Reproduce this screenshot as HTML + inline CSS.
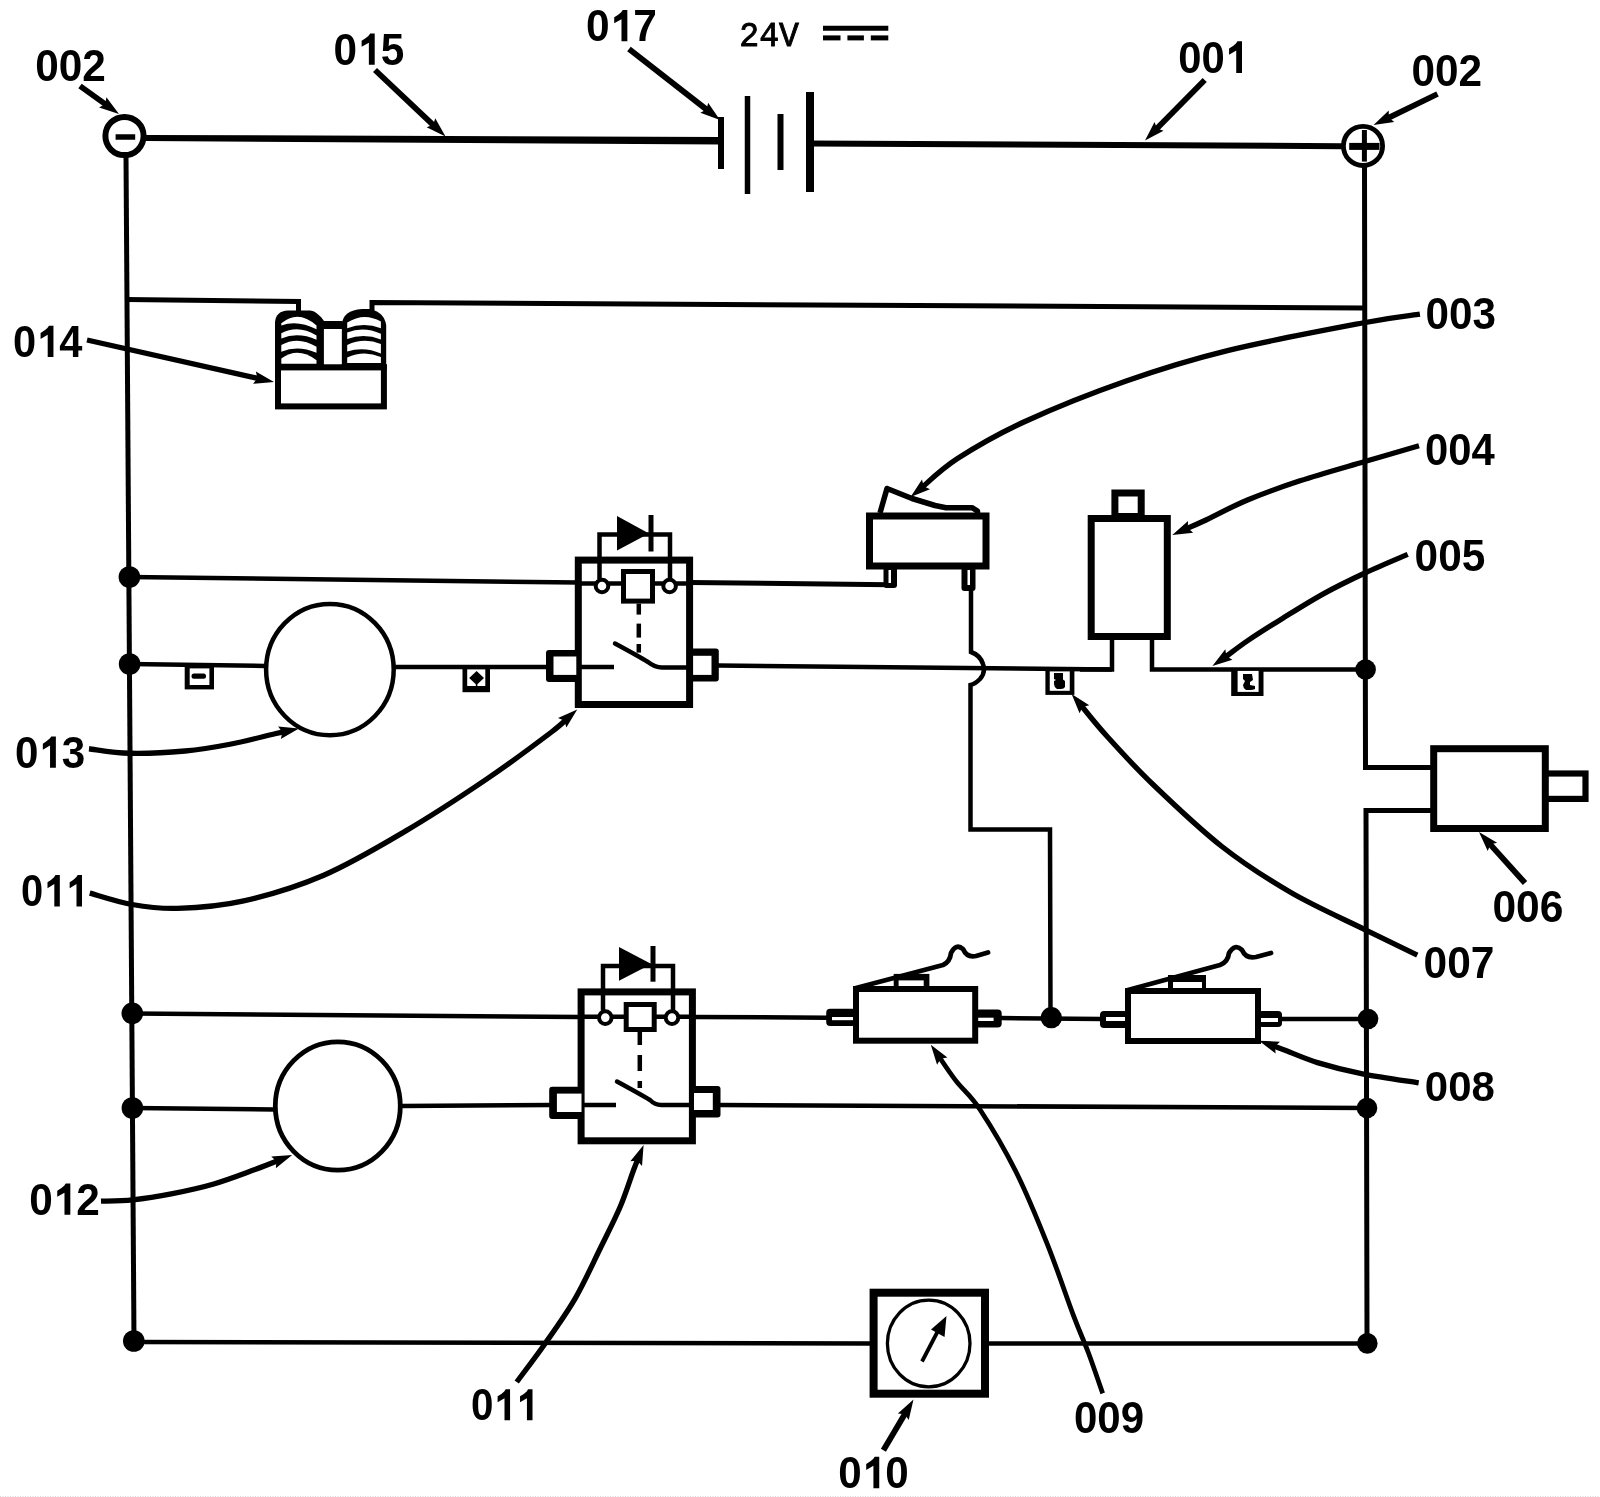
<!DOCTYPE html>
<html><head><meta charset="utf-8"><style>
html,body{margin:0;padding:0;background:#fff;}
svg{display:block;will-change:transform;}
.lb{font-family:"Liberation Sans",sans-serif;font-weight:bold;fill:#000;}
.mono{font-family:"Liberation Mono",monospace;fill:#000;}
</style></head><body>
<svg width="1600" height="1497" viewBox="0 0 1600 1497" stroke="#000" fill="none">
<rect x="0" y="0" width="1600" height="1497" fill="#fff" stroke="none"/>
<polygon points="146,134.9 722,136.9 722,144.4 146,141.1" fill="#000" stroke="none"/>
<circle cx="124.5" cy="136" r="19.1" fill="none" stroke-width="6"/>
<line x1="115.6" y1="137" x2="135.2" y2="137" stroke-width="5.5" stroke-linecap="butt"/>
<line x1="721" y1="117" x2="721" y2="169" stroke-width="6" stroke-linecap="butt"/>
<line x1="747.5" y1="96" x2="747.5" y2="194" stroke-width="5.5" stroke-linecap="butt"/>
<line x1="780.5" y1="114" x2="780.5" y2="170" stroke-width="6" stroke-linecap="butt"/>
<line x1="810" y1="92" x2="810" y2="192" stroke-width="8" stroke-linecap="butt"/>
<line x1="810" y1="143.5" x2="1342" y2="146.2" stroke-width="6" stroke-linecap="butt"/>
<circle cx="1363" cy="145.9" r="19.6" fill="none" stroke-width="4.8"/>
<line x1="1349.2" y1="146.4" x2="1379.5" y2="146.4" stroke-width="7" stroke-linecap="butt"/>
<line x1="1364.4" y1="130" x2="1364.4" y2="161.6" stroke-width="5" stroke-linecap="butt"/>
<line x1="126" y1="156" x2="134" y2="1341" stroke-width="5" stroke-linecap="butt"/>
<polyline points="1364.5,166 1365.5,767.5 1432,767.5" fill="none" stroke-width="5" stroke-linecap="butt" stroke-linejoin="miter"/>
<polyline points="1432,810.5 1366,810.5 1367,1343" fill="none" stroke-width="5" stroke-linecap="butt" stroke-linejoin="miter"/>
<polyline points="126,299.5 298.5,301.5 298.5,312" fill="none" stroke-width="5" stroke-linecap="butt" stroke-linejoin="miter"/>
<polyline points="372,311 372,302.5 1364,308" fill="none" stroke-width="5" stroke-linecap="butt" stroke-linejoin="miter"/>
<rect x="278" y="367.4" width="105.9" height="39" rx="0" fill="#fff" stroke-width="6"/>
<path d="M275,368 L275,322 Q276,311 288,310.5 L310,310.5 Q317,311 324,321 L324,368 Z" fill="#000" stroke-width="0" stroke-linecap="butt" stroke-linejoin="round"/>
<path d="M341.6,368 L341.6,325 Q343,310 362,309 L370,309 Q384,312 386.2,325 L386.2,368 Z" fill="#000" stroke-width="0" stroke-linecap="butt" stroke-linejoin="round"/>
<rect x="323" y="321" width="19.5" height="8" fill="#000" stroke="none"/>
<path d="M281.3,323.3 Q298,309.05 316.5,325.4 L316.5,329.3 Q298,319.65 281.3,325.4 Z" fill="#fff" stroke="none"/>
<path d="M281.3,333.3 Q298,324.25 316.5,335.4 L316.5,339.8 Q298,331.65 281.3,338.5 Z" fill="#fff" stroke="none"/>
<path d="M281.3,345 Q298,335.55 316.5,346.7 L316.5,352.8 Q298,344.75 281.3,351.7 Z" fill="#fff" stroke="none"/>
<path d="M281.3,358.5 Q298,346.25 316.5,360.2 L316.5,363.8 L281.3,363.8 Z" fill="#fff" stroke="none"/>
<path d="M347.2,322.6 Q364,311.9 380.9,321.6 L380.9,328.2 Q364,321.6 347.2,328.2 Z" fill="#fff" stroke="none"/>
<path d="M347.2,332.4 Q364,326.1 380.9,333.8 L380.9,339.4 Q364,333.05 347.2,338.9 Z" fill="#fff" stroke="none"/>
<path d="M347.2,345 Q364,337.1 380.9,344 L380.9,353.4 Q364,345.95 347.2,351.5 Z" fill="#fff" stroke="none"/>
<path d="M347.2,357.6 Q364,349.45 380.9,357.1 L380.9,362.9 L347.2,362.9 Z" fill="#fff" stroke="none"/>
<rect x="323.9" y="329" width="17.7" height="35.5" fill="#fff" stroke="none"/>
<rect x="275" y="364.4" width="111.9" height="5.5" fill="#000" stroke="none"/>
<circle cx="129.4" cy="577" r="10.8" fill="#000" stroke="none"/>
<circle cx="129.6" cy="664" r="10.8" fill="#000" stroke="none"/>
<circle cx="132.3" cy="1013.3" r="10.8" fill="#000" stroke="none"/>
<circle cx="132.4" cy="1108" r="10.8" fill="#000" stroke="none"/>
<circle cx="133.8" cy="1341" r="10.8" fill="#000" stroke="none"/>
<circle cx="1365.6" cy="669.5" r="10.3" fill="#000" stroke="none"/>
<circle cx="1368" cy="1019" r="10.3" fill="#000" stroke="none"/>
<circle cx="1367" cy="1108" r="10.3" fill="#000" stroke="none"/>
<circle cx="1367.3" cy="1343.4" r="10.3" fill="#000" stroke="none"/>
<line x1="129" y1="577" x2="578" y2="582.5" stroke-width="4.5" stroke-linecap="butt"/>
<line x1="690" y1="582.5" x2="890" y2="584.75" stroke-width="5" stroke-linecap="butt"/>
<line x1="129" y1="664" x2="265" y2="666" stroke-width="4.5" stroke-linecap="butt"/>
<line x1="393" y1="667" x2="548" y2="667" stroke-width="4.5" stroke-linecap="butt"/>
<line x1="718" y1="665.5" x2="1112" y2="669.5" stroke-width="4.5" stroke-linecap="butt"/>
<polyline points="1112,639 1112,669.5 1080,669.5" fill="none" stroke-width="4.5" stroke-linecap="butt" stroke-linejoin="miter"/>
<polyline points="1152,639 1152,669.5 1365,669.5" fill="none" stroke-width="4.5" stroke-linecap="butt" stroke-linejoin="miter"/>
<path d="M971,588 L971,652 Q980,655 983,664 Q986,672 980,679 Q975,684 970.5,685 L970.5,829.5 L1050,829.5 L1050.5,1017" fill="none" stroke-width="4.5" stroke-linecap="butt" stroke-linejoin="miter"/>
<line x1="132" y1="1013.5" x2="580" y2="1017" stroke-width="4.5" stroke-linecap="butt"/>
<line x1="694" y1="1017" x2="828" y2="1017.7" stroke-width="4.5" stroke-linecap="butt"/>
<line x1="1000" y1="1018" x2="1102" y2="1019" stroke-width="4.5" stroke-linecap="butt"/>
<line x1="1280" y1="1019" x2="1368" y2="1019" stroke-width="4.5" stroke-linecap="butt"/>
<line x1="132" y1="1108" x2="274" y2="1109.5" stroke-width="4.5" stroke-linecap="butt"/>
<line x1="401" y1="1106" x2="551" y2="1105" stroke-width="4.5" stroke-linecap="butt"/>
<line x1="719" y1="1105" x2="1367" y2="1108" stroke-width="4.5" stroke-linecap="butt"/>
<line x1="134" y1="1342" x2="872" y2="1343.4" stroke-width="4.5" stroke-linecap="butt"/>
<line x1="987" y1="1343.4" x2="1367" y2="1343.4" stroke-width="4.5" stroke-linecap="butt"/>
<ellipse cx="329.9" cy="669.6" rx="63.8" ry="65.7" fill="#fff" stroke-width="4.5"/>
<ellipse cx="337.8" cy="1106" rx="62.5" ry="64.2" fill="#fff" stroke-width="4.8"/>
<rect x="184.7" y="666" width="29.3" height="23.4" rx="0" fill="#000" stroke="none"/>
<rect x="189.7" y="668.4" width="19.7" height="16.6" rx="0" fill="#fff" stroke="none"/>
<rect x="191.5" y="673.5" width="14.5" height="5.2" rx="2.5" fill="#000" stroke="none"/>
<rect x="462.5" y="667" width="27.5" height="25.2" rx="0" fill="#000" stroke="none"/>
<rect x="467.2" y="669.4" width="18.1" height="16.6" rx="0" fill="#fff" stroke="none"/>
<polygon points="476.6,671 484,678.1 476.6,685 469.2,678.1" fill="#000" stroke="none"/>
<line x1="476.6" y1="684" x2="476.6" y2="687" stroke-width="1.5" stroke-linecap="butt"/>
<rect x="1045.4" y="669" width="29" height="25.9" rx="0" fill="#000" stroke="none"/>
<rect x="1049.75" y="671.4" width="20" height="19.4" rx="0" fill="#fff" stroke="none"/>
<path d="M1054,673 L1063,673 L1063,679.5 L1065,681 L1065,687 Q1064,689 1061,689 L1057,689 Q1054,687 1054,684 L1054,681 L1056,680 L1054,679 Z" fill="#000" stroke-width="0" stroke-linecap="butt" stroke-linejoin="round"/>
<rect x="1231.2" y="669" width="32.3" height="27" rx="0" fill="#000" stroke="none"/>
<rect x="1237.6" y="670.9" width="21" height="21" rx="0" fill="#fff" stroke="none"/>
<path d="M1243,674 L1252,674 L1253,680 L1250,682 L1250,685 L1255,686 L1255,689 Q1253,690 1250,690 L1246,690 Q1243,688 1243,685 L1245,681 L1243,679 Z" fill="#000" stroke-width="0" stroke-linecap="butt" stroke-linejoin="round"/>
<polyline points="599.5,579 599.5,534.5 670,534.5 670,579" fill="none" stroke-width="4.5" stroke-linecap="butt" stroke-linejoin="miter"/>
<rect x="578.3" y="560.1" width="111.3" height="144.4" rx="0" fill="none" stroke-width="7"/>
<rect x="546" y="650" width="32" height="32" rx="3" fill="#000" stroke="none"/>
<rect x="553.5" y="656.5" width="22.8" height="18.4" rx="0" fill="#fff" stroke="none"/>
<rect x="688" y="648.5" width="30.8" height="33" rx="3" fill="#000" stroke="none"/>
<rect x="693.1" y="655.8" width="18.4" height="19.1" rx="0" fill="#fff" stroke="none"/>
<polygon points="617,516 617,550.5 649,533.5" fill="#000" stroke="none"/>
<line x1="651" y1="515" x2="651" y2="551.5" stroke-width="5" stroke-linecap="butt"/>
<line x1="577.8" y1="583.5" x2="690.1" y2="583.5" stroke-width="4.5" stroke-linecap="butt"/>
<rect x="623.5" y="571.5" width="29" height="29.6" rx="0" fill="#fff" stroke-width="5"/>
<circle cx="602" cy="586" r="6.3" fill="#fff" stroke-width="4"/>
<circle cx="669.6" cy="586" r="6.3" fill="#fff" stroke-width="4"/>
<line x1="638.8" y1="603.6" x2="638.8" y2="614.6" stroke-width="4.5" stroke-linecap="butt"/>
<line x1="638.8" y1="623.6" x2="638.8" y2="637.6" stroke-width="4.5" stroke-linecap="butt"/>
<line x1="638.8" y1="644" x2="638.8" y2="652.6" stroke-width="4.5" stroke-linecap="butt"/>
<path d="M615,643.5 Q640,657 648,662 Q655,667.5 662,667.5 L688,667.5" fill="none" stroke-width="4.5" stroke-linecap="round" stroke-linejoin="round"/>
<line x1="579.8" y1="667" x2="614" y2="667" stroke-width="4.5" stroke-linecap="butt"/>
<polyline points="603,1010.6 603,966 673,966 673,1010.6" fill="none" stroke-width="4.5" stroke-linecap="butt" stroke-linejoin="miter"/>
<rect x="581.1" y="991.9" width="111.3" height="148.9" rx="0" fill="none" stroke-width="7"/>
<rect x="549.2" y="1086.7" width="31.8" height="32.3" rx="3" fill="#000" stroke="none"/>
<rect x="556.9" y="1093.6" width="24.6" height="18.4" rx="0" fill="#fff" stroke="none"/>
<rect x="690" y="1086" width="30.5" height="31.4" rx="3" fill="#000" stroke="none"/>
<rect x="694" y="1093" width="18.8" height="17" rx="0" fill="#fff" stroke="none"/>
<polygon points="619,947 619,980.7 651.4,964" fill="#000" stroke="none"/>
<line x1="653" y1="946" x2="653" y2="981.7" stroke-width="5" stroke-linecap="butt"/>
<line x1="580.6" y1="1016.8" x2="692.9" y2="1016.8" stroke-width="4.5" stroke-linecap="butt"/>
<rect x="626.2" y="1004.5" width="28" height="25" rx="0" fill="#fff" stroke-width="5"/>
<circle cx="605.3" cy="1017.6" r="6.3" fill="#fff" stroke-width="4"/>
<circle cx="672" cy="1017.6" r="6.3" fill="#fff" stroke-width="4"/>
<line x1="639.8" y1="1032" x2="639.8" y2="1045" stroke-width="4.5" stroke-linecap="butt"/>
<line x1="639.8" y1="1055" x2="639.8" y2="1071" stroke-width="4.5" stroke-linecap="butt"/>
<line x1="639.8" y1="1081" x2="639.8" y2="1088" stroke-width="4.5" stroke-linecap="butt"/>
<path d="M617,1081.5 Q640,1094 650,1100 Q655,1105 661,1105 L690,1105" fill="none" stroke-width="4.5" stroke-linecap="round" stroke-linejoin="round"/>
<line x1="582.6" y1="1105" x2="616" y2="1105" stroke-width="4.5" stroke-linecap="butt"/>
<rect x="869.5" y="516" width="116.5" height="50" rx="0" fill="#fff" stroke-width="7"/>
<polyline points="880,513 887,488.5 912,498.5 935,505.5 946,507.7 972,507.7 977.5,511 977.5,513" fill="none" stroke-width="5.5" stroke-linecap="butt" stroke-linejoin="round"/>
<rect x="883.5" y="567" width="13.5" height="21" rx="3" fill="#000" stroke="none"/>
<rect x="888.5" y="570" width="2.5" height="13" rx="0" fill="#fff" stroke="none"/>
<rect x="961.5" y="567" width="14" height="24" rx="3" fill="#000" stroke="none"/>
<rect x="967.5" y="570" width="2.5" height="15" rx="0" fill="#fff" stroke="none"/>
<rect x="1114.9" y="493" width="26.3" height="23.5" rx="0" fill="#fff" stroke-width="7"/>
<rect x="1091.2" y="518.5" width="76.1" height="118" rx="0" fill="#fff" stroke-width="7"/>
<rect x="1544.6" y="773.5" width="40.9" height="25.4" rx="0" fill="#fff" stroke-width="6.2"/>
<rect x="1433.7" y="748.7" width="111.6" height="79.8" rx="0" fill="#fff" stroke-width="7"/>
<rect x="826.2" y="1008.8" width="29.8" height="17.1" rx="4" fill="#000" stroke="none"/>
<rect x="832" y="1017" width="22" height="3.2" rx="0" fill="#fff" stroke="none"/>
<rect x="975" y="1009.6" width="26.7" height="17.9" rx="4" fill="#000" stroke="none"/>
<rect x="978" y="1017.7" width="15.6" height="3.3" rx="0" fill="#fff" stroke="none"/>
<rect x="893.7" y="973.9" width="35.7" height="15.1" rx="0" fill="#000" stroke="none"/>
<rect x="898.6" y="980.4" width="25.1" height="6.6" rx="0" fill="#fff" stroke="none"/>
<rect x="856" y="989" width="119.2" height="51.7" rx="0" fill="#fff" stroke-width="6"/>
<path d="M856,988 L943,965 Q950,962 951,953 Q956,943 963,949 Q967,958 976,956 L988,952.5" fill="none" stroke-width="4.8" stroke-linecap="round" stroke-linejoin="round"/>
<rect x="1100" y="1011" width="28" height="17" rx="4" fill="#000" stroke="none"/>
<rect x="1106" y="1017" width="21" height="4" rx="0" fill="#fff" stroke="none"/>
<rect x="1258" y="1011" width="24" height="16" rx="4" fill="#000" stroke="none"/>
<rect x="1261" y="1018" width="17" height="4" rx="0" fill="#fff" stroke="none"/>
<rect x="1168" y="975" width="38" height="16" rx="0" fill="#000" stroke="none"/>
<rect x="1173" y="982" width="29" height="7" rx="0" fill="#fff" stroke="none"/>
<rect x="1128" y="991" width="130" height="50" rx="0" fill="#fff" stroke-width="6"/>
<path d="M1128,990 L1220,965 Q1228,962 1229,953 Q1235,943 1242,950 Q1246,959 1256,957 L1271,953" fill="none" stroke-width="4.8" stroke-linecap="round" stroke-linejoin="round"/>
<circle cx="1051.3" cy="1017.7" r="10.6" fill="#000" stroke="none"/>
<rect x="873.6" y="1292.7" width="111.4" height="101" rx="0" fill="#fff" stroke-width="8"/>
<ellipse cx="928.7" cy="1343.5" rx="41.3" ry="43.4" fill="none" stroke-width="3.3"/>
<line x1="922" y1="1361.5" x2="940" y2="1327" stroke-width="3.8" stroke-linecap="butt"/>
<polygon points="946.5,1316 944.5,1337 931,1329.5" fill="#000" stroke="none"/>
<line x1="823" y1="28.3" x2="888.3" y2="28.3" stroke-width="5" stroke-linecap="butt"/>
<line x1="823" y1="37.9" x2="840.5" y2="37.9" stroke-width="5" stroke-linecap="butt"/>
<line x1="847.4" y1="37.9" x2="863.9" y2="37.9" stroke-width="5" stroke-linecap="butt"/>
<line x1="870.8" y1="37.9" x2="888.3" y2="37.9" stroke-width="5" stroke-linecap="butt"/>
<text transform="translate(739.3,46.3) scale(0.947,1.01)" x="0" y="0" class="mono" font-size="35" stroke="#000" stroke-width="0.9">24V</text>
<line x1="80" y1="86" x2="109.25" y2="107" stroke-width="5.8" stroke-linecap="butt"/>
<polygon points="119,114 99.08,107.45 105.19,104.09 106.43,97.22" fill="#000" stroke="none"/>
<line x1="375" y1="70" x2="436.77" y2="128.27" stroke-width="5.8" stroke-linecap="butt"/>
<polygon points="445.5,136.5 426.63,127.36 433.13,124.84 435.27,118.19" fill="#000" stroke="none"/>
<line x1="629" y1="49" x2="710.54" y2="112.62" stroke-width="5.8" stroke-linecap="butt"/>
<polygon points="720,120 700.36,112.66 706.6,109.54 708.11,102.73" fill="#000" stroke="none"/>
<line x1="1204.7" y1="80" x2="1153.42" y2="132.05" stroke-width="5.8" stroke-linecap="butt"/>
<polygon points="1145,140.6 1154.55,121.93 1156.93,128.49 1163.52,130.77" fill="#000" stroke="none"/>
<line x1="1437.5" y1="94" x2="1384.3" y2="119.77" stroke-width="5.8" stroke-linecap="butt"/>
<polygon points="1373.5,125 1388.75,110.61 1388.8,117.59 1394.25,121.95" fill="#000" stroke="none"/>
<line x1="1525" y1="883" x2="1487.04" y2="840.91" stroke-width="5.8" stroke-linecap="butt"/>
<polygon points="1479,832 1497.07,842.63 1490.39,844.62 1487.72,851.07" fill="#000" stroke="none"/>
<line x1="883.4" y1="1450.3" x2="907.38" y2="1409.82" stroke-width="5.8" stroke-linecap="butt"/>
<polygon points="913.5,1399.5 908.72,1419.92 904.83,1414.13 897.88,1413.49" fill="#000" stroke="none"/>
<path d="M1419.9,314.2 C1410.33,315.67 1394.57,316.93 1362.5,323 C1330.43,329.07 1266.88,340.93 1227.5,350.6 C1188.12,360.27 1159.95,369.18 1126.2,381 C1092.45,392.82 1053.12,408.57 1025,421.5 C996.88,434.43 975.03,447.28 957.5,458.6 C939.97,469.92 926.08,484.27 919.79,489.41" fill="none" stroke-width="5.3" stroke-linecap="butt" stroke-linejoin="round"/>
<polygon points="910.5,497 922,479.47 923.66,486.24 929.97,489.22" fill="#000" stroke="none"/>
<path d="M1419,445.8 C1409.97,448.42 1384.63,455.67 1364.8,461.5 C1344.97,467.33 1319.55,474.38 1300,480.8 C1280.45,487.22 1263.53,493.3 1247.5,500 C1231.47,506.7 1214.51,515.98 1203.8,521 C1193.09,526.02 1186.69,528.61 1183.27,530.13" fill="none" stroke-width="5.3" stroke-linecap="butt" stroke-linejoin="round"/>
<polygon points="1172.3,535 1188.02,521.12 1187.83,528.1 1193.13,532.63" fill="#000" stroke="none"/>
<path d="M1407.7,554.4 C1400.58,557.5 1378.98,566.47 1365,573 C1351.02,579.53 1337.55,586.03 1323.8,593.6 C1310.05,601.17 1295.12,610.6 1282.5,618.4 C1269.88,626.2 1257.27,634.22 1248.1,640.4 C1238.93,646.58 1231.8,652.38 1227.5,655.5 C1223.2,658.62 1223.15,658.49 1222.28,659.09" fill="none" stroke-width="5.3" stroke-linecap="butt" stroke-linejoin="round"/>
<polygon points="1212.4,665.9 1225.3,649.37 1226.4,656.26 1232.44,659.74" fill="#000" stroke="none"/>
<path d="M1417.3,955.2 C1408.63,950.97 1386.3,940.2 1365.3,929.8 C1344.3,919.4 1315.2,906.68 1291.3,892.8 C1267.4,878.92 1245.03,864.63 1221.9,846.5 C1198.77,828.37 1171.77,802.5 1152.5,784 C1133.23,765.5 1118.5,748.98 1106.3,735.5 C1094.1,722.02 1083.79,708.51 1079.29,703.12" fill="none" stroke-width="5.3" stroke-linecap="butt" stroke-linejoin="round"/>
<polygon points="1071.6,693.9 1089.25,705.22 1082.49,706.95 1079.57,713.29" fill="#000" stroke="none"/>
<path d="M1418.7,1082.9 C1409.33,1081.4 1379.37,1077.28 1362.5,1073.9 C1345.63,1070.52 1330.63,1066.63 1317.5,1062.6 C1304.37,1058.57 1291.57,1052.67 1283.7,1049.7 C1275.83,1046.73 1272.51,1045.62 1270.27,1044.81" fill="none" stroke-width="5.3" stroke-linecap="butt" stroke-linejoin="round"/>
<polygon points="1259,1040.7 1279.95,1041.63 1274.97,1046.52 1275.63,1053.47" fill="#000" stroke="none"/>
<path d="M1102.7,1393.4 C1100.3,1386.58 1093.12,1365.33 1088.3,1352.5 C1083.48,1339.67 1080.62,1334.43 1073.8,1316.4 C1066.98,1298.37 1057,1268.33 1047.4,1244.3 C1037.8,1220.27 1027.42,1194.63 1016.2,1172.2 C1004.98,1149.77 990.13,1124.92 980.1,1109.7 C970.07,1094.48 963.07,1090.08 956,1080.9 C948.93,1071.72 940.72,1059.02 937.67,1054.64" fill="none" stroke-width="4.8" stroke-linecap="butt" stroke-linejoin="round"/>
<polygon points="930.8,1044.8 947.41,1057.59 940.53,1058.74 937.08,1064.81" fill="#000" stroke="none"/>
<path d="M516.7,1382 C521.42,1375.62 535.27,1357.6 545,1343.7 C554.73,1329.8 565.9,1314.47 575.1,1298.6 C584.3,1282.73 592.68,1263.8 600.2,1248.5 C607.72,1233.2 614.63,1219.88 620.2,1206.8 C625.77,1193.72 630.44,1178.44 633.6,1170 C636.76,1161.56 638.22,1158.45 639.14,1156.14" fill="none" stroke-width="5.3" stroke-linecap="butt" stroke-linejoin="round"/>
<polygon points="643.6,1145 642.02,1165.91 637.29,1160.78 630.32,1161.23" fill="#000" stroke="none"/>
<path d="M89.75,893.1 C96.79,895 117.38,901.95 132,904.5 C146.62,907.05 159.08,908.95 177.5,908.4 C195.92,907.85 218.12,906.73 242.5,901.2 C266.88,895.67 296.67,886.83 323.75,875.2 C350.83,863.57 377.92,847.37 405,831.4 C432.08,815.43 461.88,795.92 486.25,779.4 C510.62,762.88 537.59,742.58 551.25,732.25 C564.91,721.92 565.39,719.88 568.22,717.4" fill="none" stroke-width="5.3" stroke-linecap="butt" stroke-linejoin="round"/>
<polygon points="577.25,709.5 566.35,727.41 564.46,720.69 558.05,717.93" fill="#000" stroke="none"/>
<path d="M101,1201.2 C106.27,1200.97 120.68,1201.07 132.6,1199.8 C144.52,1198.53 158.97,1196.23 172.5,1193.6 C186.03,1190.97 200.05,1188 213.8,1184 C227.55,1180 243.8,1173.69 255,1169.6 C266.2,1165.51 276.68,1161.15 281.02,1159.46" fill="none" stroke-width="5.3" stroke-linecap="butt" stroke-linejoin="round"/>
<polygon points="292.2,1155.1 275.85,1168.23 276.36,1161.27 271.28,1156.49" fill="#000" stroke="none"/>
<path d="M89,748.75 C95.75,749.5 113.5,752.88 129.5,753.25 C145.5,753.62 168.25,752.5 185,751 C201.75,749.5 215,747.12 230,744.25 C245,741.38 265.45,735.95 275,733.75 C284.55,731.55 285.23,731.51 287.28,731.06" fill="none" stroke-width="5.3" stroke-linecap="butt" stroke-linejoin="round"/>
<polygon points="299,728.5 280.81,738.93 282.39,732.13 278.12,726.62" fill="#000" stroke="none"/>
<line x1="87" y1="340" x2="262.29" y2="379.37" stroke-width="5.3" stroke-linecap="butt"/>
<polygon points="274,382 253.11,383.76 257.41,378.27 255.87,371.47" fill="#000" stroke="none"/>
<g transform="translate(35.21,80.99) scale(0.42344,0.44014)" fill="#000" stroke="none"><text x="0" y="0" class="lb" font-size="100">0</text><text x="55.6" y="0" class="lb" font-size="100">0</text><text x="111.2" y="0" class="lb" font-size="100">2</text></g>
<g transform="translate(333.61,64.74) scale(0.42322,0.43521)" fill="#000" stroke="none"><text x="0" y="0" class="lb" font-size="100">0</text><path transform="translate(55.6,0)" d="M30.7,-71.6 L41.5,-71.6 L41.5,0 L27.7,0 L27.7,-50.8 L10.6,-41.4 L10.6,-55.1 Q22,-61.5 27,-66.5 Z"/><text x="111.2" y="0" class="lb" font-size="100">5</text></g>
<g transform="translate(586.1,41.34) scale(0.42478,0.43662)" fill="#000" stroke="none"><text x="0" y="0" class="lb" font-size="100">0</text><path transform="translate(55.6,0)" d="M30.7,-71.6 L41.5,-71.6 L41.5,0 L27.7,0 L27.7,-50.8 L10.6,-41.4 L10.6,-55.1 Q22,-61.5 27,-66.5 Z"/><text x="111.2" y="0" class="lb" font-size="100">7</text></g>
<g transform="translate(1178.13,73.03) scale(0.41829,0.44366)" fill="#000" stroke="none"><text x="0" y="0" class="lb" font-size="100">0</text><text x="55.6" y="0" class="lb" font-size="100">0</text><path transform="translate(111.2,0)" d="M30.7,-71.6 L41.5,-71.6 L41.5,0 L27.7,0 L27.7,-50.8 L10.6,-41.4 L10.6,-55.1 Q22,-61.5 27,-66.5 Z"/></g>
<g transform="translate(1411.41,85.99) scale(0.42344,0.44014)" fill="#000" stroke="none"><text x="0" y="0" class="lb" font-size="100">0</text><text x="55.6" y="0" class="lb" font-size="100">0</text><text x="111.2" y="0" class="lb" font-size="100">2</text></g>
<g transform="translate(13.04,356.94) scale(0.41615,0.43592)" fill="#000" stroke="none"><text x="0" y="0" class="lb" font-size="100">0</text><path transform="translate(55.6,0)" d="M30.7,-71.6 L41.5,-71.6 L41.5,0 L27.7,0 L27.7,-50.8 L10.6,-41.4 L10.6,-55.1 Q22,-61.5 27,-66.5 Z"/><text x="111.2" y="0" class="lb" font-size="100">4</text></g>
<g transform="translate(1425.51,329.43) scale(0.42211,0.44507)" fill="#000" stroke="none"><text x="0" y="0" class="lb" font-size="100">0</text><text x="55.6" y="0" class="lb" font-size="100">0</text><text x="111.2" y="0" class="lb" font-size="100">3</text></g>
<g transform="translate(1424.93,465.34) scale(0.41800,0.43521)" fill="#000" stroke="none"><text x="0" y="0" class="lb" font-size="100">0</text><text x="55.6" y="0" class="lb" font-size="100">0</text><text x="111.2" y="0" class="lb" font-size="100">4</text></g>
<g transform="translate(1414.61,570.64) scale(0.42322,0.43944)" fill="#000" stroke="none"><text x="0" y="0" class="lb" font-size="100">0</text><text x="55.6" y="0" class="lb" font-size="100">0</text><text x="111.2" y="0" class="lb" font-size="100">5</text></g>
<g transform="translate(14.91,767.84) scale(0.42180,0.43944)" fill="#000" stroke="none"><text x="0" y="0" class="lb" font-size="100">0</text><path transform="translate(55.6,0)" d="M30.7,-71.6 L41.5,-71.6 L41.5,0 L27.7,0 L27.7,-50.8 L10.6,-41.4 L10.6,-55.1 Q22,-61.5 27,-66.5 Z"/><text x="111.2" y="0" class="lb" font-size="100">3</text></g>
<g transform="translate(21.1,906.44) scale(0.39879,0.43944)" fill="#000" stroke="none"><text x="0" y="0" class="lb" font-size="100">0</text><path transform="translate(55.6,0)" d="M30.7,-71.6 L41.5,-71.6 L41.5,0 L27.7,0 L27.7,-50.8 L10.6,-41.4 L10.6,-55.1 Q22,-61.5 27,-66.5 Z"/><path transform="translate(111.2,0)" d="M30.7,-71.6 L41.5,-71.6 L41.5,0 L27.7,0 L27.7,-50.8 L10.6,-41.4 L10.6,-55.1 Q22,-61.5 27,-66.5 Z"/></g>
<g transform="translate(1492.4,921.74) scale(0.42588,0.43803)" fill="#000" stroke="none"><text x="0" y="0" class="lb" font-size="100">0</text><text x="55.6" y="0" class="lb" font-size="100">0</text><text x="111.2" y="0" class="lb" font-size="100">6</text></g>
<g transform="translate(1423.6,978.48) scale(0.42478,0.44437)" fill="#000" stroke="none"><text x="0" y="0" class="lb" font-size="100">0</text><text x="55.6" y="0" class="lb" font-size="100">0</text><text x="111.2" y="0" class="lb" font-size="100">7</text></g>
<g transform="translate(1424.82,1100.54) scale(0.41954,0.43380)" fill="#000" stroke="none"><text x="0" y="0" class="lb" font-size="100">0</text><text x="55.6" y="0" class="lb" font-size="100">0</text><text x="111.2" y="0" class="lb" font-size="100">8</text></g>
<g transform="translate(29.21,1214.74) scale(0.42344,0.43521)" fill="#000" stroke="none"><text x="0" y="0" class="lb" font-size="100">0</text><path transform="translate(55.6,0)" d="M30.7,-71.6 L41.5,-71.6 L41.5,0 L27.7,0 L27.7,-50.8 L10.6,-41.4 L10.6,-55.1 Q22,-61.5 27,-66.5 Z"/><text x="111.2" y="0" class="lb" font-size="100">2</text></g>
<g transform="translate(470.89,1420.34) scale(0.40350,0.43521)" fill="#000" stroke="none"><text x="0" y="0" class="lb" font-size="100">0</text><path transform="translate(55.6,0)" d="M30.7,-71.6 L41.5,-71.6 L41.5,0 L27.7,0 L27.7,-50.8 L10.6,-41.4 L10.6,-55.1 Q22,-61.5 27,-66.5 Z"/><path transform="translate(111.2,0)" d="M30.7,-71.6 L41.5,-71.6 L41.5,0 L27.7,0 L27.7,-50.8 L10.6,-41.4 L10.6,-55.1 Q22,-61.5 27,-66.5 Z"/></g>
<g transform="translate(1073.92,1432.84) scale(0.42023,0.43944)" fill="#000" stroke="none"><text x="0" y="0" class="lb" font-size="100">0</text><text x="55.6" y="0" class="lb" font-size="100">0</text><text x="111.2" y="0" class="lb" font-size="100">9</text></g>
<g transform="translate(838.31,1488.14) scale(0.42155,0.43944)" fill="#000" stroke="none"><text x="0" y="0" class="lb" font-size="100">0</text><path transform="translate(55.6,0)" d="M30.7,-71.6 L41.5,-71.6 L41.5,0 L27.7,0 L27.7,-50.8 L10.6,-41.4 L10.6,-55.1 Q22,-61.5 27,-66.5 Z"/><text x="111.2" y="0" class="lb" font-size="100">0</text></g>
<line x1="0" y1="1496.5" x2="1600" y2="1496.5" stroke="#d8d8d8" stroke-width="1" stroke-dasharray="1,1.5"/>
</svg></body></html>
